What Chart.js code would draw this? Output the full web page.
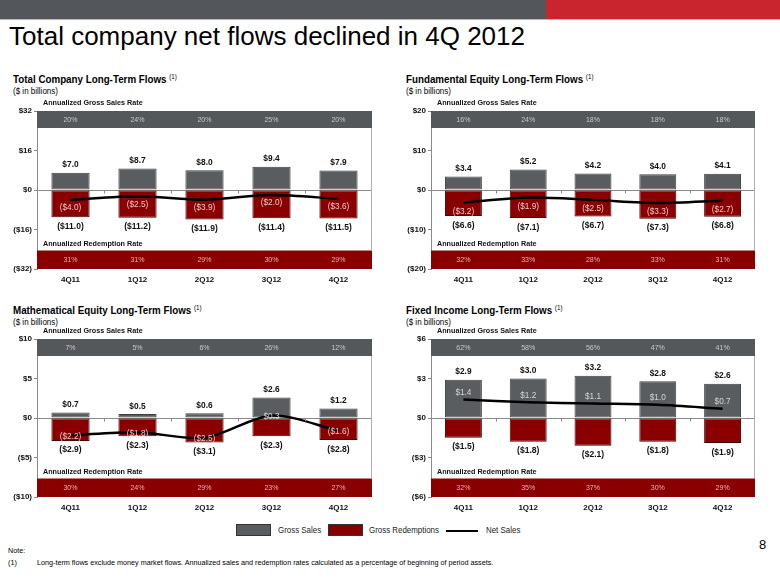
<!DOCTYPE html>
<html>
<head>
<meta charset="utf-8">
<script src="https://cdn.jsdelivr.net/npm/chart.js@4.4.1/dist/chart.umd.min.js"></script>
<style>
  html,body{margin:0;padding:0;background:#fff;}
  #page{position:relative;width:780px;height:585px;overflow:hidden;background:#fff;font-family:"Liberation Sans",Arial,sans-serif;color:#000;}
  .abs{position:absolute;white-space:nowrap;}
  canvas{position:absolute;}
  .ptitle{font-size:11px;font-weight:bold;line-height:13px;transform:scaleX(0.89);transform-origin:0 50%;}
  .ptitle sup{font-size:7px;font-weight:normal;vertical-align:4px;}
  .psub{font-size:9px;line-height:11px;transform:scaleX(0.89);transform-origin:0 50%;}
  .leg{font-size:9px;line-height:11px;transform:scaleX(0.88);transform-origin:0 50%;color:#222;}
  .note{font-size:8px;line-height:10px;transform:scaleX(0.9);transform-origin:0 50%;color:#000;}
</style>
</head>
<body>
<div id="page">
  <div class="abs" style="left:0;top:0;width:546px;height:19px;background:#53575b;"></div>
  <div class="abs" style="left:546px;top:0;width:234px;height:19px;background:#c9252f;"></div>
  <div class="abs" style="left:0;top:19px;width:780px;height:1px;background:#b8b8b8;"></div>
  <div class="abs" style="left:9px;top:23px;font-size:26px;line-height:26px;">Total company net flows declined in 4Q 2012</div>

  <div class="abs ptitle" style="left:13px;top:70px;">Total Company Long-Term Flows <sup>(1)</sup></div>
  <div class="abs psub" style="left:13px;top:86px;">($ in billions)</div>
  <div class="abs ptitle" style="left:406px;top:70px;">Fundamental Equity Long-Term Flows <sup>(1)</sup></div>
  <div class="abs psub" style="left:406px;top:86px;">($ in billions)</div>
  <div class="abs ptitle" style="left:13px;top:301px;">Mathematical Equity Long-Term Flows <sup>(1)</sup></div>
  <div class="abs psub" style="left:13px;top:317px;">($ in billions)</div>
  <div class="abs ptitle" style="left:406px;top:301px;">Fixed Income Long-Term Flows <sup>(1)</sup></div>
  <div class="abs psub" style="left:406px;top:317px;">($ in billions)</div>

  <canvas id="c1" width="390" height="195" style="left:0;top:95px;width:390px;height:195px;"></canvas>
  <canvas id="c2" width="390" height="195" style="left:390px;top:95px;width:390px;height:195px;"></canvas>
  <canvas id="c3" width="390" height="195" style="left:0;top:323px;width:390px;height:195px;"></canvas>
  <canvas id="c4" width="390" height="195" style="left:390px;top:323px;width:390px;height:195px;"></canvas>

  <div class="abs" style="left:236px;top:524px;width:33px;height:10px;background:#5a5d60;border:1px solid #333;"></div>
  <div class="abs leg" style="left:278px;top:525px;">Gross Sales</div>
  <div class="abs" style="left:328px;top:524px;width:33px;height:10px;background:#850000;border:1px solid #333;"></div>
  <div class="abs leg" style="left:369px;top:525px;">Gross Redemptions</div>
  <div class="abs" style="left:446px;top:530px;width:32px;height:1.5px;background:#000;"></div>
  <div class="abs leg" style="left:486px;top:525px;">Net Sales</div>

  <div class="abs note" style="left:8px;top:546px;">Note:</div>
  <div class="abs note" style="left:8px;top:558px;">(1)</div>
  <div class="abs note" style="left:37px;top:558px;">Long-term flows exclude money market flows. Annualized sales and redemption rates calculated as a percentage of beginning of period assets.</div>
  <div class="abs" style="left:759px;top:538px;font-size:13px;line-height:14px;">8</div>
</div>
<script>
const categories = ['4Q11','1Q12','2Q12','3Q12','4Q12'];

// Total Company
const tcTicks = [32, 16, 0, -16, -32];
const tcGross = [7.0, 8.7, 8.0, 9.4, 7.9];
const tcRedemptions = [-11.0, -11.2, -11.9, -11.4, -11.5];
const tcNet = [-4.0, -2.5, -3.9, -2.0, -3.6];
const tcSalesRate = [20, 24, 20, 25, 20];
const tcRedemptionRate = [31, 31, 29, 30, 29];

// Fundamental Equity
const feTicks = [20, 10, 0, -10, -20];
const feGross = [3.4, 5.2, 4.2, 4.0, 4.1];
const feRedemptions = [-6.6, -7.1, -6.7, -7.3, -6.8];
const feNet = [-3.2, -1.9, -2.5, -3.3, -2.7];
const feSalesRate = [16, 24, 18, 18, 18];
const feRedemptionRate = [32, 33, 28, 33, 31];

// Mathematical Equity
const meTicks = [10, 5, 0, -5, -10];
const meGross = [0.7, 0.5, 0.6, 2.6, 1.2];
const meRedemptions = [-2.9, -2.3, -3.1, -2.3, -2.8];
const meNet = [-2.2, -1.8, -2.5, 0.3, -1.6];
const meSalesRate = [7, 5, 6, 26, 12];
const meRedemptionRate = [30, 24, 29, 23, 27];

// Fixed Income
const fiTicks = [6, 3, 0, -3, -6];
const fiGross = [2.9, 3.0, 3.2, 2.8, 2.6];
const fiRedemptions = [-1.5, -1.8, -2.1, -1.8, -1.9];
const fiNet = [1.4, 1.2, 1.1, 1.0, 0.7];
const fiSalesRate = [62, 58, 56, 47, 41];
const fiRedemptionRate = [32, 35, 37, 30, 29];

const FONT = '"Liberation Sans", Arial, sans-serif';
const GRAY = '#5a5d60';
const RED = '#8a0000';
const BAND_GRAY = '#55585b';
const BAND_RED = '#8a0000';

function money(v) {
  return v < 0 ? '($' + Math.abs(v).toFixed(1) + ')' : '$' + v.toFixed(1);
}
function tickMoney(v) {
  return v < 0 ? '($' + Math.abs(v) + ')' : '$' + v;
}
function txt(ctx, s, x, y, font, color, align, sx) {
  ctx.save();
  ctx.translate(x, y);
  ctx.scale(sx || 1, 1);
  ctx.font = font;
  ctx.fillStyle = color;
  ctx.textAlign = align || 'center';
  ctx.textBaseline = 'middle';
  ctx.fillText(s, 0, 0);
  ctx.restore();
}

const panelPlugin = {
  id: 'panel',
  beforeDatasetsDraw(chart, args, o) {
    const ctx = chart.ctx, a = chart.chartArea, x = chart.scales.x;
    ctx.save();
    ctx.fillStyle = BAND_GRAY;
    ctx.fillRect(a.left, a.top, a.right - a.left, 17);
    ctx.fillStyle = BAND_RED;
    ctx.fillRect(a.left, a.bottom - 18.5, a.right - a.left, 18.5);
    ctx.restore();
    o.sales.forEach((v, i) => txt(ctx, v + '%', x.getPixelForValue(i), a.top + 8.5, '8px ' + FONT, '#c8c8c8', 'center', 0.88));
    o.redemption.forEach((v, i) => txt(ctx, v + '%', x.getPixelForValue(i), a.bottom - 9, '8px ' + FONT, '#e2b4b4', 'center', 0.88));
    txt(ctx, 'Annualized Gross Sales Rate', a.left + 6, a.top - 8, 'bold 8px ' + FONT, '#111', 'left', 0.9);
    txt(ctx, 'Annualized Redemption Rate', a.left + 6, a.bottom - 25, 'bold 8px ' + FONT, '#111', 'left', 0.9);
    ctx.save();
    ctx.strokeStyle = '#b0b0b0';
    ctx.lineWidth = 1;
    ctx.beginPath();
    ctx.moveTo(a.right - 0.5, a.top + 17);
    ctx.lineTo(a.right - 0.5, a.bottom - 18.5);
    ctx.stroke();
    ctx.restore();
  },
  afterDatasetsDraw(chart, args, o) {
    const ctx = chart.ctx, x = chart.scales.x, y = chart.scales.y;
    o.gross.forEach((v, i) => txt(ctx, money(v), x.getPixelForValue(i), y.getPixelForValue(v) - 8, 'bold 9px ' + FONT, '#111', 'center', 0.93));
    o.red.forEach((v, i) => txt(ctx, money(v), x.getPixelForValue(i), y.getPixelForValue(v) + 9, 'bold 9px ' + FONT, '#111', 'center', 0.95));
    o.net.forEach((v, i) => {
      const col = v >= 0 ? '#d4d4d4' : '#ecc8c8';
      txt(ctx, money(v), x.getPixelForValue(i), y.getPixelForValue(v) + o.netOffset, '8.5px ' + FONT, col, 'center', 0.97);
    });
    const z = Math.round(y.getPixelForValue(0)) + 0.5;
    ctx.save();
    ctx.strokeStyle = '#888';
    ctx.lineWidth = 1;
    for (let i = 0; i < o.gross.length - 1; i++) {
      const bx = Math.round((x.getPixelForValue(i) + x.getPixelForValue(i + 1)) / 2) + 0.5;
      ctx.beginPath();
      ctx.moveTo(bx, z);
      ctx.lineTo(bx, z + 3);
      ctx.stroke();
    }
    ctx.restore();
  }
};

function makeChart(id, ticks, gross, red, net, sales, redRate, axisW, padRight, netOffset) {
  new Chart(document.getElementById(id), {
    data: {
      labels: categories,
      datasets: [
        { type: 'bar', data: gross, backgroundColor: GRAY, borderColor: '#3c3e40', borderWidth: 1, borderSkipped: false,
          grouped: false, barPercentage: 0.57, categoryPercentage: 1, order: 2 },
        { type: 'bar', data: red, backgroundColor: RED, borderColor: '#4a0000', borderWidth: 1, borderSkipped: false,
          grouped: false, barPercentage: 0.57, categoryPercentage: 1, order: 2 },
        { type: 'line', data: net, borderColor: '#000', borderWidth: 2.5, tension: 0.3, pointRadius: 0,
          fill: false, order: 0 }
      ]
    },
    options: {
      responsive: false,
      animation: false,
      events: [],
      layout: { padding: { top: 16, right: padRight, left: 0, bottom: 0 } },
      plugins: {
        legend: { display: false },
        tooltip: { enabled: false },
        panel: { gross: gross, red: red, net: net, sales: sales, redemption: redRate, netOffset: netOffset }
      },
      scales: {
        x: {
          grid: { display: false, drawTicks: false },
          border: { display: false },
          ticks: { font: { family: FONT, size: 8, weight: 'bold' }, color: '#111', padding: 6, maxRotation: 0 },
          afterFit(s) { s.height = 21; }
        },
        y: {
          min: Math.min.apply(null, ticks),
          max: Math.max.apply(null, ticks),
          afterBuildTicks(s) { s.ticks = ticks.map(v => ({ value: v })); },
          grid: {
            drawTicks: true, tickLength: 3, tickColor: '#888',
            color: c => (c.tick && c.tick.value === 0) ? '#8a8a8a' : 'rgba(0,0,0,0)',
            lineWidth: 1
          },
          border: { display: true, color: '#8a8a8a', width: 1 },
          ticks: { font: { family: FONT, size: 8, weight: 'bold' }, color: '#111', padding: 2,
                   callback: v => tickMoney(v) },
          afterFit(s) { s.width = axisW; }
        }
      }
    },
    plugins: [panelPlugin]
  });
}

makeChart('c1', tcTicks, tcGross, tcRedemptions, tcNet, tcSalesRate, tcRedemptionRate, 37, 18, 8);
makeChart('c2', feTicks, feGross, feRedemptions, feNet, feSalesRate, feRedemptionRate, 41, 25, 9);
makeChart('c3', meTicks, meGross, meRedemptions, meNet, meSalesRate, meRedemptionRate, 37, 18, 1);
makeChart('c4', fiTicks, fiGross, fiRedemptions, fiNet, fiSalesRate, fiRedemptionRate, 41, 25, -7);
</script>
</body>
</html>
